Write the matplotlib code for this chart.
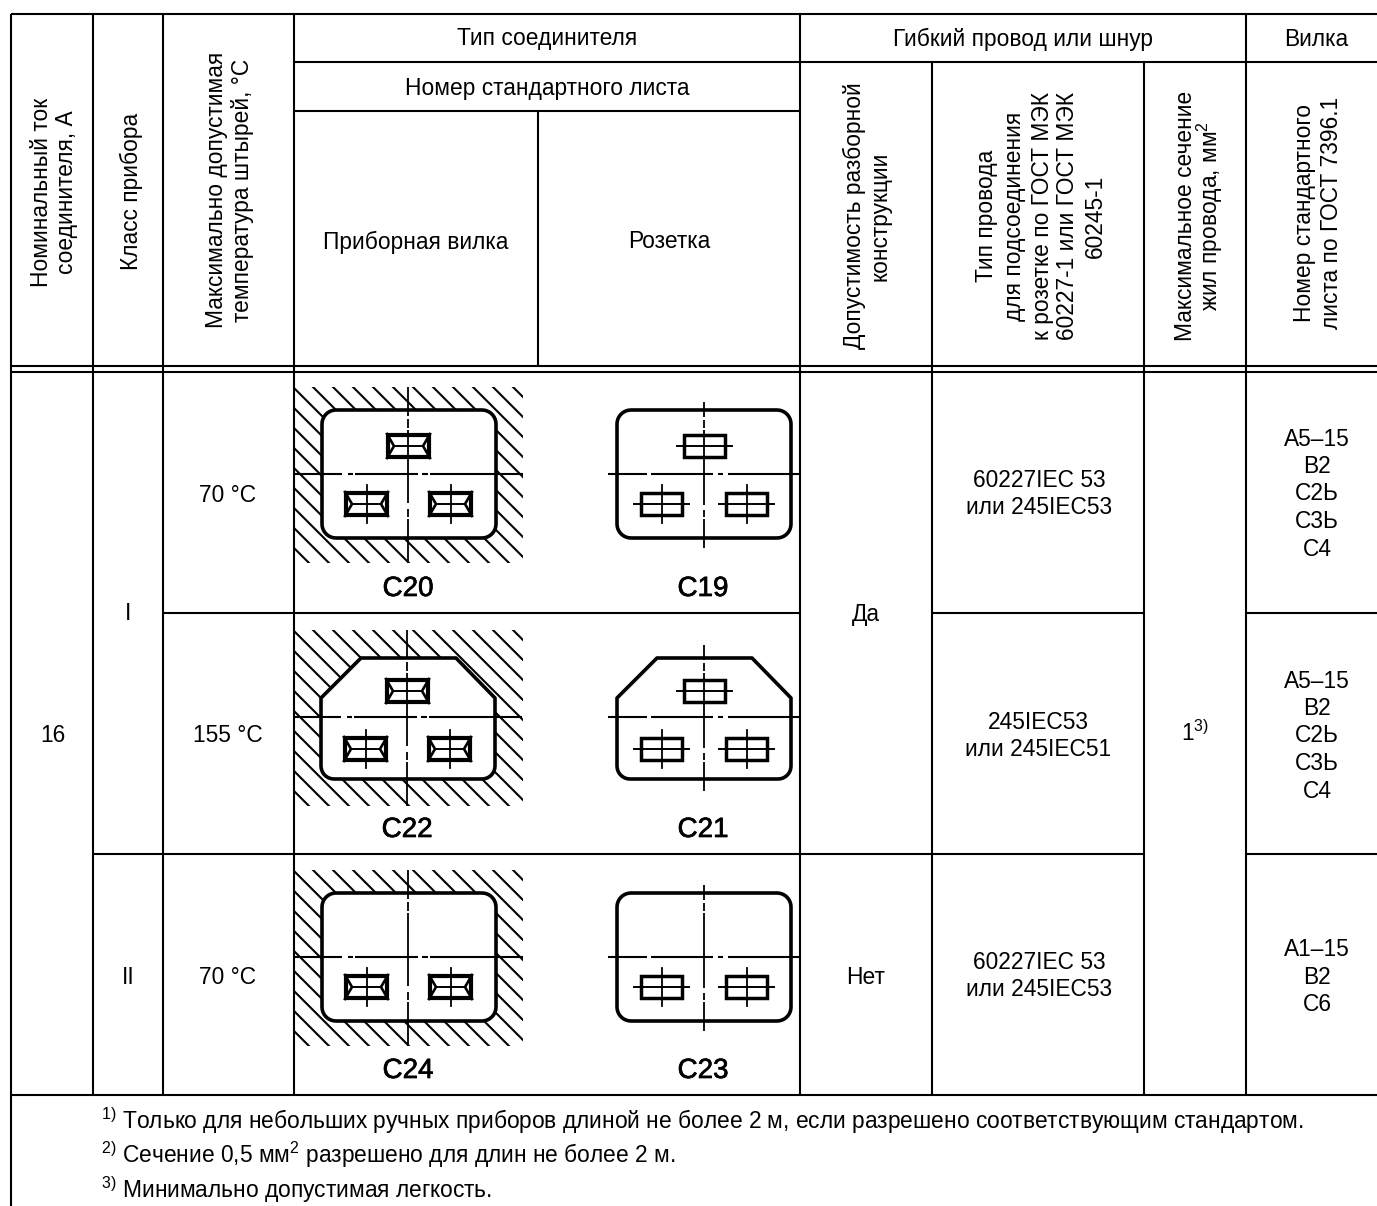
import numpy as np
import matplotlib
matplotlib.use("Agg")
import matplotlib.pyplot as plt
from matplotlib.patches import Polygon, Rectangle
import matplotlib.patheffects as pe

plt.rcParams["font.family"] = ["Liberation Sans", "DejaVu Sans"]
plt.rcParams["mathtext.fontset"] = "custom"
plt.rcParams["mathtext.rm"] = "Liberation Sans"
plt.rcParams["mathtext.default"] = "regular"

W, H = 1377, 1206
FS = 16.4

# table grid, in image pixels
rows_h = [
    (14, 11, W), (62, 294, W), (111, 294, 800), (366, 11, W), (372, 11, W),
    (613, 163, 800), (613, 932, 1144), (613, 1246, W),
    (854, 93, 1144), (854, 1246, W), (1095, 11, W),
]
cols_v = [
    (11, 14, H), (93, 14, 1095), (163, 14, 1095), (294, 14, 1095),
    (538, 111, 366), (800, 14, 1095), (932, 62, 1095), (1144, 62, 1095),
    (1246, 14, 1095),
]

header_texts = [
    ("Тип соединителя", 547, 39),
    ("Гибкий провод или шнур", 1023, 39),
    ("Вилка", 1316, 39),
    ("Номер стандартного листа", 547, 88),
    ("Приборная вилка", 416, 242),
    ("Розетка", 669, 242),
]
rotated_texts = [
    ("Номинальный ток", 42, 192),
    ("соединителя, А", 67, 192),
    ("Класс прибора", 131, 191),
    ("Максимально допустимая", 217, 190),
    ("температура штырей, °С", 243, 190),
    ("Допустимость разборной", 854, 216),
    ("конструкции", 880, 216),
    ("Тип провода", 987, 216),
    ("для подсоединения", 1015, 216),
    ("к розетке по ГОСТ МЭК", 1042, 216),
    ("60227-1 или ГОСТ МЭК", 1067, 216),
    ("60245-1", 1095, 216),
    ("Максимальное сечение", 1185, 216),
    ("жил провода, мм$^2$", 1210, 216),
    ("Номер стандартного", 1304, 213),
    ("листа по ГОСТ 7396.1", 1332, 213),
]
cell_texts = [
    ("16", 53, 736), ("I", 128, 614), ("II", 128, 977),
    ("70 °С", 228, 495), ("155 °С", 228, 736), ("70 °С", 228, 977),
    ("Да", 866, 614), ("Нет", 866, 977),
    ("60227IEC 53\nили 245IEC53", 1039, 494),
    ("245IEC53\nили 245IEC51", 1038, 736),
    ("60227IEC 53\nили 245IEC53", 1039, 976),
    ("1$^{3)}$", 1195, 733),
    ("А5–15\nВ2\nС2Ь\nС3Ь\nС4", 1317, 494),
    ("А5–15\nВ2\nС2Ь\nС3Ь\nС4", 1317, 736),
    ("А1–15\nВ2\nС6", 1317, 977),
]
footnotes = [
    ("$^{1)}$ Только для небольших ручных приборов длиной не более 2 м, если разрешено соответствующим стандартом.", 101, 1121),
    ("$^{2)}$ Сечение 0,5 мм$^2$ разрешено для длин не более 2 м.", 101, 1155),
    ("$^{3)}$ Минимально допустимая легкость.", 101, 1190),
]

# connector name, centre x, centre y, outline kind, pins, label y, hatch phase
plugs = [
    ("C20", 408, 474, "rect", 3, 589, 6),
    ("C22", 407, 717, "chamfer", 3, 830, 3),
    ("C24", 408, 957, "rect", 2, 1071, 3),
]
sockets = [
    ("C19", 704, 474, "rect", 3, 589, 0),
    ("C21", 704, 717, "chamfer", 3, 830, 0),
    ("C23", 704, 957, "rect", 2, 1071, 0),
]

# centre line dashes, relative to the connector centre
plug_h = [(-114, -66), (-60, -55), (-53, 10), (14, 20), (22, 115)]
plug_v = [(-87, -58), (-55, -46), (-44, 29), (35, 43), (45, 89)]
sock_h = [(-96, -57), (-53, 9), (14, 19), (24, 96)]
sock_v = [(-72, -57), (-54, -46), (-44, 31), (36, 43), (45, 74)]

fig = plt.figure(figsize=(W / 100, H / 100), dpi=100)
ax = fig.add_axes([0, 0, 1, 1])
ax.set_xlim(0, W)
ax.set_ylim(H, 0)
ax.axis("off")


def outline(kind, x0, x1, y0, y1):
    """closed vertex list of the connector outline"""
    if kind == "rect":
        r = 14
        corners = [(x1 - r, y0 + r, -90), (x1 - r, y1 - r, 0), (x0 + r, y1 - r, 90), (x0 + r, y0 + r, 180)]
    else:
        r = 13
        corners = [(x1 - r, y1 - r, 0), (x0 + r, y1 - r, 90)]
    pts = []
    if kind == "chamfer":
        pts += [(x0 + 40, y0), (x1 - 39, y0), (x1, y0 + 40)]
    for cx, cy, a in corners:
        t = np.radians(np.linspace(a, a + 90, 10))
        pts += list(zip(cx + r * np.cos(t), cy + r * np.sin(t)))
    if kind == "chamfer":
        pts.append((x0, y0 + 40))
    return pts


def draw_pin(x0, y0, plug):
    x1, y1 = x0 + 43, y0 + 24
    cy = (y0 + y1) / 2
    if plug:
        ax.add_patch(Rectangle((x0 + 1, y0 + 1), 41, 22, fc="white", ec="black", lw=3.0, zorder=6))
        ax.plot([x0, x0 + 7, x0], [y0, cy, y1], color="black", lw=1.9, zorder=7)
        ax.plot([x1, x1 - 7, x1], [y0, cy, y1], color="black", lw=1.9, zorder=7)
        ax.plot([x0 + 7, x1 - 7], [cy, cy], color="black", lw=1.4, zorder=7)
    else:
        ax.add_patch(Rectangle((x0 + 1, y0 + 1), 41, 22, fc="white", ec="black", lw=2.5, zorder=6))
        ax.plot([x0 - 6, x1 + 6], [cy, cy], color="black", lw=1.4, zorder=7)


def draw_connector(name, cx, cy, kind, npins, label_y, phase, plug):
    if kind == "rect":
        y0, y1 = cy - 64, cy + 64
        top_pin, bot_pin = cy - 40, cy + 18
    else:
        y0, y1 = cy - 59, cy + 62
        top_pin, bot_pin = cy - 38, cy + 20
    x0, x1 = (cx - 86, cx + 88) if plug else (cx - 87, cx + 87)
    if plug:
        # hatching around the plug body, x - y = phase + 20 k
        hx0, hx1, hy0, hy1 = 294, 523, cy - 87, cy + 89
        clip = Rectangle((hx0, hy0), hx1 - hx0, hy1 - hy0, transform=ax.transData)
        for k in range((hx0 - hy1) // 20 - 1, (hx1 - hy0) // 20 + 1):
            off = phase + 20 * k
            line, = ax.plot([hy0 + off, hy1 + off], [hy0, hy1], color="black", lw=1.5, zorder=2)
            line.set_clip_path(clip)
    pts = outline(kind, x0, x1, y0, y1)
    ax.add_patch(Polygon(pts, closed=True, fc="white", ec="black", lw=2.6, zorder=3, joinstyle="round"))

    hs, vs = (plug_h, plug_v) if plug else (sock_h, sock_v)
    for a, b in hs:
        ax.plot([cx + a, cx + b], [cy, cy], color="black", lw=1.5, zorder=9, solid_capstyle="butt")
    for a, b in vs:
        ax.plot([cx, cx], [cy + a, cy + b], color="black", lw=1.3, zorder=9, solid_capstyle="butt")

    bx = (cx - 63, cx + 21) if plug else (cx - 64, cx + 21)
    if npins == 3:
        draw_pin(cx - 21, top_pin, plug)
    for x in bx:
        draw_pin(x, bot_pin, plug)
        ax.plot([x + 21.5, x + 21.5], [bot_pin - 7, bot_pin + 31], color="black", lw=1.3, zorder=8)

    t = ax.text(cx if plug else cx - 1, label_y, name, fontsize=20, ha="center", va="center", color="black")
    t.set_path_effects([pe.withStroke(linewidth=0.5, foreground="black")])


for y, a, b in rows_h:
    ax.plot([a, b], [y, y], color="black", lw=1.5, solid_capstyle="butt", zorder=1)
for x, a, b in cols_v:
    ax.plot([x, x], [a, b], color="black", lw=1.5, solid_capstyle="butt", zorder=1)

for s, x, y in header_texts:
    ax.text(x, y, s, fontsize=FS, ha="center", va="center")
for s, x, y in rotated_texts:
    ax.text(x, y, s, fontsize=FS, ha="center", va="center", rotation=90)
for s, x, y in cell_texts:
    ax.text(x, y, s, fontsize=FS, ha="center", va="center", multialignment="center", linespacing=1.25)
for s, x, y in footnotes:
    ax.text(x, y, s, fontsize=FS, ha="left", va="center")

for name, cx, cy, kind, n, ly, ph in plugs:
    draw_connector(name, cx, cy, kind, n, ly, ph, True)
for name, cx, cy, kind, n, ly, ph in sockets:
    draw_connector(name, cx, cy, kind, n, ly, ph, False)

fig.savefig("out.png", dpi=100)
